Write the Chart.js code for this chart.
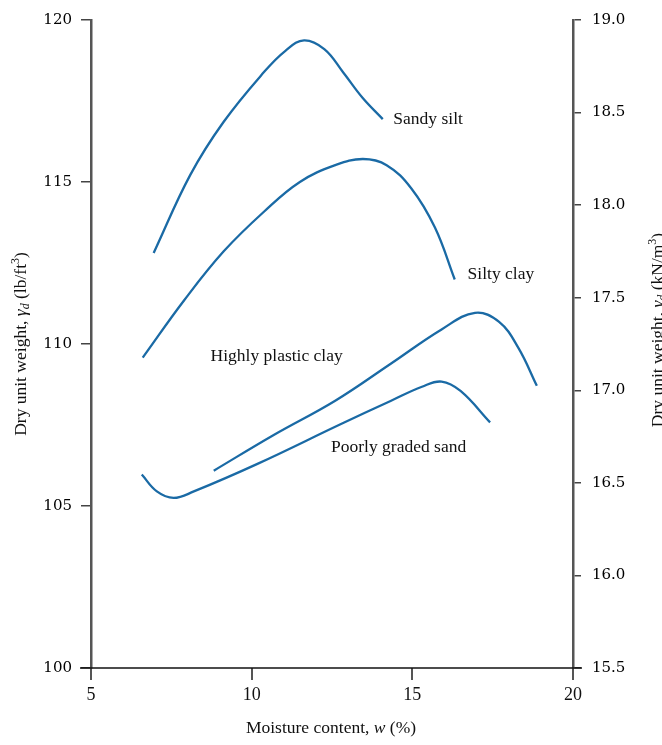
<!DOCTYPE html>
<html>
<head>
<meta charset="utf-8">
<script src="https://cdn.jsdelivr.net/npm/chart.js@4"></script>
<style>
  html, body { margin: 0; padding: 0; background: #fff; }
  canvas { display: block; }
</style>
</head>
<body>
<canvas id="chart" width="662" height="745"></canvas>
<script>
// values (moisture %, dry unit weight lb/ft3)
const curveNames = ['Sandy silt', 'Silty clay', 'Highly plastic clay', 'Poorly graded sand'];

const sandySiltX = [6.95, 8.09, 9.13, 10.39, 11.05, 11.63, 12.26, 12.85, 13.45, 14.08];
const sandySiltY = [112.81, 115.22, 116.86, 118.40, 119.05, 119.37, 119.10, 118.38, 117.6, 116.94];

const siltyClayX = [6.61, 7.9, 9.13, 10.39, 11.5, 12.6, 13.46, 14.2, 14.97, 15.7, 16.32];
const siltyClayY = [109.58, 111.35, 112.86, 114.09, 115.0, 115.52, 115.71, 115.52, 114.8, 113.6, 111.99];

const plasticClayX = [8.82, 10.70, 12.6, 14.34, 15.91, 16.95, 17.7, 18.3, 18.875];
const plasticClayY = [106.09, 107.20, 108.25, 109.40, 110.45, 110.96, 110.68, 109.88, 108.71];

const gradedSandX = [6.58, 7.05, 7.57, 8.2, 10.18, 12.78, 14.34, 15.3, 15.91, 16.5, 17.42];
const gradedSandY = [105.97, 105.45, 105.25, 105.45, 106.30, 107.53, 108.25, 108.68, 108.84, 108.55, 107.58];

// where each curve name sits, in data units (left edge, middle of text)
const labelX = [14.41, 16.72, 8.72, 12.47];
const labelY = [116.92, 112.15, 109.63, 106.80];

const xTicks = [5, 10, 15, 20];
const leftTicks = [100, 105, 110, 115, 120];
const rightTicks = [15.5, 16.0, 16.5, 17.0, 17.5, 18.0, 18.5, 19.0];

const lineColor = '#1a6aa5';
const serif = '"Liberation Serif", "Times New Roman", serif';
const tickFont = '"DejaVu Serif", serif';

const toPoints = (xs, ys) => xs.map((x, i) => ({ x: x, y: ys[i] }));
const series = [
  toPoints(sandySiltX, sandySiltY),
  toPoints(siltyClayX, siltyClayY),
  toPoints(plasticClayX, plasticClayY),
  toPoints(gradedSandX, gradedSandY)
];

// draws a run of text pieces (fonts / offsets differ) centred on 0,0
function drawRuns(ctx, runs) {
  let total = 0;
  runs.forEach(r => { ctx.font = r.font; total += ctx.measureText(r.t).width; });
  let x = -total / 2;
  runs.forEach(r => {
    ctx.font = r.font;
    ctx.fillText(r.t, x, r.dy || 0);
    x += ctx.measureText(r.t).width;
  });
}

const decorations = {
  id: 'decorations',
  afterDraw(chart) {
    const ctx = chart.ctx;
    const xs = chart.scales.x;
    const ys = chart.scales.y;
    const area = chart.chartArea;
    ctx.save();

    // x axis line runs a little past both vertical axes
    ctx.strokeStyle = '#111';
    ctx.lineWidth = 1.5;
    ctx.beginPath();
    ctx.moveTo(area.left - 11, area.bottom);
    ctx.lineTo(area.right + 9, area.bottom);
    ctx.stroke();

    // curve names
    ctx.fillStyle = '#111';
    ctx.textBaseline = 'middle';
    ctx.textAlign = 'left';
    ctx.font = '17.5px ' + serif;
    curveNames.forEach((name, i) => {
      ctx.fillText(name, xs.getPixelForValue(labelX[i]), ys.getPixelForValue(labelY[i]));
    });

    const f = '17.5px ' + serif;
    const fi = 'italic 17.5px ' + serif;
    const fs = 'italic 12px ' + serif;
    const fsup = '12px ' + serif;
    ctx.textBaseline = 'alphabetic';

    // bottom title
    ctx.save();
    ctx.translate((area.left + area.right) / 2 - 1, 733);
    drawRuns(ctx, [
      { t: 'Moisture content, ', font: f },
      { t: 'w', font: fi },
      { t: ' (%)', font: f }
    ]);
    ctx.restore();

    // left title
    const midY = (area.top + area.bottom) / 2;
    ctx.save();
    ctx.translate(26, midY);
    ctx.rotate(-Math.PI / 2);
    drawRuns(ctx, [
      { t: 'Dry unit weight, ', font: f },
      { t: '\u03b3', font: fi },
      { t: 'd', font: fs, dy: 3 },
      { t: ' (lb/ft', font: f },
      { t: '3', font: fsup, dy: -7 },
      { t: ')', font: f }
    ]);
    ctx.restore();

    // right title, cut by the canvas edge as in the reference
    ctx.save();
    ctx.translate(663, midY - 14);
    ctx.rotate(-Math.PI / 2);
    drawRuns(ctx, [
      { t: 'Dry unit weight, ', font: f },
      { t: '\u03b3', font: fi },
      { t: 'd', font: fs, dy: 3 },
      { t: ' (kN/m', font: f },
      { t: '3', font: fsup, dy: -7 },
      { t: ')', font: f }
    ]);
    ctx.restore();

    ctx.restore();
  }
};

new Chart(document.getElementById('chart'), {
  type: 'line',
  data: {
    datasets: series.map((pts, i) => ({
      label: curveNames[i],
      data: pts,
      borderColor: lineColor,
      borderWidth: 2.3,
      pointRadius: 0,
      fill: false,
      tension: 0.4,
      yAxisID: 'y'
    }))
  },
  options: {
    responsive: false,
    animation: false,
    layout: { padding: { top: 18, left: 0, right: 0, bottom: 0 } },
    plugins: { legend: { display: false }, tooltip: { enabled: false } },
    scales: {
      x: {
        type: 'linear',
        position: 'bottom',
        min: 5,
        max: 20,
        afterBuildTicks: s => { s.ticks = xTicks.map(v => ({ value: v })); },
        ticks: { font: { family: serif, size: 18 }, color: '#111', padding: 4, maxRotation: 0 },
        grid: { drawOnChartArea: false, tickLength: 12, color: '#555', lineWidth: 2 },
        border: { display: false },
        afterFit: s => { s.height = 77; }
      },
      y: {
        type: 'linear',
        position: 'left',
        min: 100,
        max: 120,
        afterBuildTicks: s => { s.ticks = leftTicks.map(v => ({ value: v })); },
        ticks: { font: { family: tickFont, size: 15 }, color: '#000', padding: 9 },
        grid: { drawOnChartArea: false, tickLength: 10, color: '#444', lineWidth: 1.5 },
        border: { display: true, color: '#555', width: 2.5 },
        afterFit: s => { s.width = 91; }
      },
      y2: {
        type: 'linear',
        position: 'right',
        min: 15.5,
        max: 19.0,
        afterBuildTicks: s => { s.ticks = rightTicks.map(v => ({ value: v })); },
        ticks: { font: { family: tickFont, size: 15 }, color: '#000', padding: 11,
                 callback: v => v.toFixed(1) },
        grid: { drawOnChartArea: false, tickLength: 8, color: '#444', lineWidth: 1.5 },
        border: { display: true, color: '#555', width: 2.5 },
        afterFit: s => { s.width = 89; }
      }
    }
  },
  plugins: [decorations]
});
</script>
</body>
</html>
